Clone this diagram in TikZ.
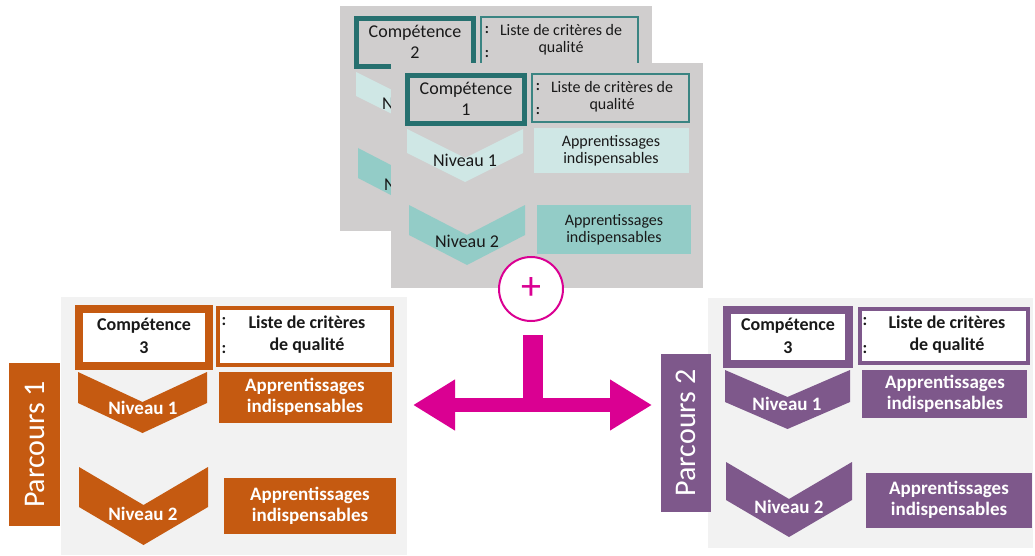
\documentclass[tikz,border=0pt]{standalone}
\usepackage{fontspec}
\setmainfont{Carlito}
\usetikzlibrary{arrows.meta}
\definecolor{cardgray}{HTML}{D0CECE}
\definecolor{panelgray}{HTML}{F2F2F2}
\definecolor{tealdark}{HTML}{26706F}
\definecolor{tealline}{HTML}{3A8482}
\definecolor{teallight}{HTML}{CFE7E5}
\definecolor{tealmid}{HTML}{93CCC7}
\definecolor{orng}{HTML}{C55A11}
\definecolor{purp}{HTML}{7E588B}
\definecolor{pnk}{HTML}{DA0092}
\tikzset{
  txt/.style={align=center, inner sep=0pt, text=black!90},
  cardcomp/.style={txt, font=\fontsize{18}{21}\selectfont},
  cardlist/.style={txt, font=\fontsize{16}{17}\selectfont},
  cardniv/.style={txt, font=\fontsize{18}{20}\selectfont},
  carddots/.style={txt, font=\fontsize{15}{24}\selectfont\bfseries},
  pcomp/.style={txt, font=\fontsize{18}{23}\selectfont\bfseries},
  plist/.style={txt, font=\fontsize{18}{22}\selectfont\bfseries},
  papp/.style={txt, text=white, font=\fontsize{19}{21}\selectfont\bfseries},
  pniv/.style={txt, text=white, font=\fontsize{19}{21}\selectfont\bfseries},
  pdots/.style={txt, font=\fontsize{17}{28}\selectfont\bfseries},
  parc/.style={rotate=90, inner sep=0pt, text=white, font=\fontsize{30}{30}\selectfont},
}
% chevron: x1, x2, ytop, side height, notch depth, colour
\newcommand{\chevfill}[6]{%
  \fill[#6] (#1,#3) -- ({(#1+#2)/2},{#3+#5}) -- (#2,#3) -- (#2,{#3+#4})
    -- ({(#1+#2)/2},{#3+#4+#5}) -- (#1,{#3+#4}) -- cycle;}
\begin{document}
\begin{tikzpicture}[x=1pt,y=-1pt]
\useasboundingbox (0,0) rectangle (1035,556);
% ---------- back card (Compétence 2), partly hidden ----------
\begin{scope}[shift={(-51,-57)}]
  \fill[cardgray] (391,63) rectangle (703,288);
  \draw[tealdark, line width=5pt] (407.5,75.5) rectangle (524.5,123.5);
  \node[cardcomp] (backcomp) at (466,99) {Compétence\\2};
  \draw[tealline, line width=2pt] (532,74) rectangle (689,122);
  \node[cardlist] (backliste) at (612,97) {Liste de critères de\\qualité};
  \node[carddots] (backdots) at (538,99) {:\\:};
  \chevfill{407}{523}{129}{24}{29}{teallight}
  \chevfill{409}{525}{205}{30}{30}{tealmid}
\end{scope}
\begin{scope}
  \clip (0,0) rectangle (391,556);
  \node[cardniv] (backniva) at (414,103) {Niveau 1};
  \node[cardniv] (backnivb) at (416,184) {Niveau 2};
\end{scope}
% ---------- front card (Compétence 1) ----------
\fill[cardgray] (391,63) rectangle (703,288);
\draw[tealdark, line width=5pt] (407.5,75.5) rectangle (524.5,123.5);
\node[cardcomp] (frontcomp) at (466,99) {Compétence\\1};
\draw[tealline, line width=2pt] (532,74) rectangle (689,122);
\node[cardlist] (frontliste) at (612,97) {Liste de critères de\\qualité};
\node[carddots] (frontdots) at (538,99) {:\\:};
\fill[teallight] (534,128) rectangle (689,173);
\node[cardlist] (frontappa) at (611,151) {Apprentissages\\indispensables};
\chevfill{407}{523}{129}{24}{29}{teallight}
\node[cardniv] (frontniva) at (465,160) {Niveau 1};
\fill[tealmid] (537,205) rectangle (691,254);
\node[cardlist] (frontappb) at (614,230) {Apprentissages\\indispensables};
\chevfill{409}{525}{205}{30}{30}{tealmid}
\node[cardniv] (frontnivb) at (467,241) {Niveau 2};

% ---------- left panel ----------
\fill[panelgray] (61,297) rectangle (407,555);
\node[parc, fill=orng, minimum width=163pt, minimum height=51pt] (parcA) at (34.5,444.5) {Parcours 1};
\draw[orng, line width=8pt, fill=white] (79,309) rectangle (209,366);
\node[pcomp] (compA) at (144,336) {Compétence\\3};
\draw[orng, line width=4pt, fill=white] (218,308) rectangle (392,365);
\node[plist] (listeA) at (307,335) {Liste de critères\\de qualité};
\node[pdots] (dotsA) at (224,336) {:\\:};
\chevfill{78}{207}{372}{31}{30}{orng}
\node[pniv] (nivaA) at (143,408) {Niveau 1};
\fill[orng] (219,372) rectangle (392,423);
\node[papp] (appaA) at (305,397) {Apprentissages\\indispensables};
\chevfill{79}{208}{467}{40}{38}{orng}
\node[pniv] (nivbA) at (143,514) {Niveau 2};
\fill[orng] (224,478) rectangle (396,534);
\node[papp] (appbA) at (310,506) {Apprentissages\\indispensables};

% ---------- right panel ----------
\fill[panelgray] (708,298) rectangle (1033,548);
\node[parc, fill=purp, minimum width=158pt, minimum height=50pt] (parcB) at (686,433) {Parcours 2};
\draw[purp, line width=8pt, fill=white] (727,310) rectangle (849,364);
\node[pcomp] (compB) at (788,336) {Compétence\\3};
\draw[purp, line width=4pt, fill=white] (860,309) rectangle (1028,363);
\node[plist] (listeB) at (947,335) {Liste de critères\\de qualité};
\node[pdots] (dotsB) at (865,336) {:\\:};
\chevfill{725}{850}{370}{32}{27}{purp}
\node[pniv] (nivaB) at (787,404) {Niveau 1};
\fill[purp] (862,370) rectangle (1027,418);
\node[papp] (appaB) at (945,394) {Apprentissages\\indispensables};
\chevfill{726}{852}{462}{38}{37}{purp}
\node[pniv] (nivbB) at (789,507) {Niveau 2};
\fill[purp] (866,473) rectangle (1032,528);
\node[papp] (appbB) at (949,500) {Apprentissages\\indispensables};

% ---------- plus and arrows ----------
\node[circle, draw=pnk, line width=2pt, fill=white, minimum size=64pt, inner sep=0pt,
      text=pnk, font=\fontsize{40}{40}\selectfont] (plus) at (531,289) {+};
\coordinate (stemtop) at (533,335);
\coordinate (stembot) at (533,406);
\coordinate (arrL) at (413,405);
\coordinate (arrR) at (652,405);
\draw[pnk, line width=14pt, {Triangle[length=42pt,width=48pt]}-{Triangle[length=42pt,width=48pt]}] (arrL) -- (arrR);
\draw[pnk, line width=20pt] (stemtop) -- (stembot);
\end{tikzpicture}
\end{document}
